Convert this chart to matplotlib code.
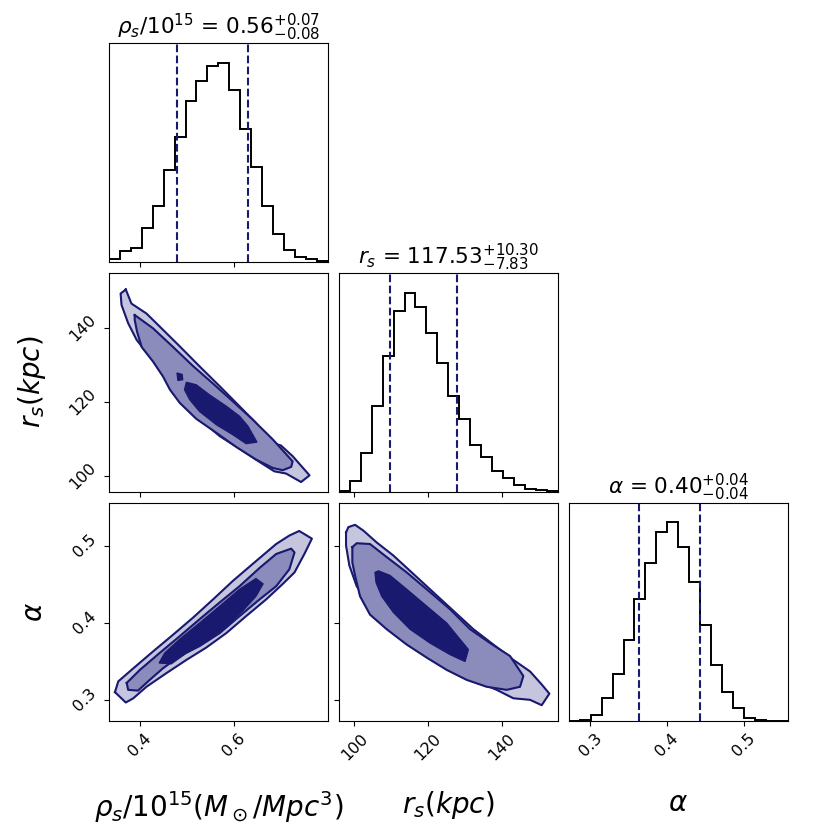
import numpy as np
import matplotlib.pyplot as plt

# colours
navy = "#191970"
c_light = "#c5c6de"
c_mid = "#8b8cbb"

# parameter ranges (axis limits = histogram range)
rho_range = [0.334, 0.800]
rs_range = [95.8, 155.0]
alpha_range = [0.272, 0.557]

# 1D histogram counts (20 bins)
rho_counts = [9, 30, 39, 96, 159, 263, 356, 459, 517, 560, 567, 489, 379, 270, 159, 81, 35, 15, 7, 4]
rs_counts = [3, 32, 115, 254, 401, 535, 590, 549, 470, 381, 285, 215, 139, 103, 60, 40, 21, 8, 5, 1]
alpha_counts = [1, 3, 20, 69, 141, 240, 364, 470, 563, 590, 518, 413, 285, 168, 88, 40, 10, 4, 1, 0]

# 16% / 84% quantiles
rho_q = [0.479, 0.631]
rs_q = [109.70, 127.83]
alpha_q = [0.364, 0.443]

# titles: median, +err, -err
rho_med, rho_up, rho_lo = "0.56", "0.07", "0.08"
rs_med, rs_up, rs_lo = "117.53", "10.30", "7.83"
alpha_med, alpha_up, alpha_lo = "0.40", "0.04", "0.04"

# 2D contours: rho vs r_s
rho_rs_outer_x = [0.370, 0.382, 0.414, 0.442, 0.485, 0.527, 0.570, 0.612, 0.647, 0.676, 0.700, 0.725, 0.761,
                  0.743, 0.711, 0.686, 0.655, 0.612, 0.570, 0.527, 0.492, 0.464, 0.435, 0.407, 0.393, 0.375, 0.361, 0.359]
rho_rs_outer_y = [150.5, 146.7, 144.0, 140.5, 135.1, 129.7, 124.3, 118.9, 114.4, 109.2, 108.3, 105.4, 100.2,
                  98.4, 100.7, 101.3, 103.8, 107.4, 110.8, 115.5, 119.8, 124.3, 130.6, 134.6, 136.9, 141.4, 146.3, 149.4]
rho_rs_mid_x = [0.389, 0.428, 0.471, 0.513, 0.556, 0.598, 0.640, 0.683, 0.725, 0.722, 0.704, 0.683,
                0.647, 0.605, 0.563, 0.520, 0.485, 0.464, 0.449, 0.428, 0.404, 0.394, 0.389]
rho_rs_mid_y = [143.6, 140.0, 134.9, 129.8, 125.0, 120.2, 115.3, 109.9, 104.0, 102.5, 101.6, 102.2,
                104.5, 107.9, 111.7, 115.5, 119.8, 123.4, 127.0, 131.0, 134.9, 139.1, 142.3]
rho_rs_in_x = [0.499, 0.520, 0.548, 0.584, 0.612, 0.630, 0.649, 0.626, 0.598, 0.563, 0.527, 0.506, 0.495]
rho_rs_in_y = [125.4, 124.7, 122.0, 118.9, 116.2, 113.5, 109.2, 108.8, 111.2, 113.9, 117.5, 120.7, 123.4]
rho_rs_blob_x = [0.479, 0.490, 0.491, 0.481]
rho_rs_blob_y = [127.9, 127.5, 126.1, 125.9]

# 2D contours: rho vs alpha
rho_al_outer_x = [0.347, 0.354, 0.386, 0.428, 0.471, 0.513, 0.556, 0.598, 0.640, 0.690, 0.718, 0.739, 0.766,
                  0.750, 0.729, 0.704, 0.669, 0.626, 0.584, 0.541, 0.499, 0.457, 0.414, 0.386, 0.370]
rho_al_outer_y = [0.310, 0.324, 0.341, 0.363, 0.385, 0.407, 0.431, 0.455, 0.477, 0.503, 0.514, 0.520, 0.510,
                  0.490, 0.466, 0.451, 0.431, 0.409, 0.387, 0.368, 0.352, 0.335, 0.317, 0.302, 0.2965]
rho_al_mid_x = [0.372, 0.400, 0.442, 0.485, 0.527, 0.570, 0.612, 0.655, 0.690, 0.722, 0.729, 0.718,
                0.690, 0.655, 0.612, 0.570, 0.527, 0.485, 0.449, 0.421, 0.396, 0.375]
rho_al_mid_y = [0.322, 0.339, 0.361, 0.383, 0.405, 0.427, 0.448, 0.472, 0.490, 0.497, 0.492, 0.470,
                0.448, 0.431, 0.409, 0.387, 0.370, 0.357, 0.341, 0.326, 0.312, 0.313]
rho_al_in_x = [0.441, 0.453, 0.485, 0.527, 0.570, 0.612, 0.647, 0.662, 0.647, 0.619, 0.584, 0.541, 0.499, 0.467]
rho_al_in_y = [0.348, 0.361, 0.379, 0.400, 0.422, 0.444, 0.458, 0.451, 0.435, 0.416, 0.396, 0.376, 0.361, 0.347]

# 2D contours: r_s vs alpha
rs_al_outer_x = [97.75, 98.38, 100.18, 102.43, 106.04, 110.54, 115.05, 120.45, 126.76, 132.17, 137.57, 142.98,
                 147.48, 150.64, 152.71, 150.64, 147.48, 142.98, 138.47, 133.07, 127.66, 122.25, 116.85,
                 111.44, 106.94, 103.33, 100.63, 98.65, 97.75]
rs_al_outer_y = [0.518, 0.525, 0.528, 0.5205, 0.505, 0.488, 0.468, 0.444, 0.416, 0.392, 0.372, 0.352,
                 0.337, 0.320, 0.308, 0.293, 0.300, 0.302, 0.313, 0.324, 0.344, 0.357, 0.374,
                 0.392, 0.409, 0.431, 0.448, 0.475, 0.501]
rs_al_mid_x = [99.46, 100.63, 104.23, 108.74, 114.15, 119.55, 125.86, 131.27, 136.67, 142.08, 145.68, 144.78,
               141.18, 135.77, 130.36, 124.96, 119.55, 114.15, 108.74, 104.23, 101.53, 100.18, 99.46]
rs_al_mid_y = [0.499, 0.504, 0.503, 0.486, 0.466, 0.444, 0.418, 0.392, 0.374, 0.357, 0.331, 0.317,
               0.313, 0.317, 0.326, 0.339, 0.355, 0.372, 0.392, 0.411, 0.435, 0.462, 0.479]
rs_al_in_x = [105.59, 106.49, 109.64, 114.15, 119.55, 124.96, 130.81, 129.91, 125.86, 120.45, 115.05, 110.54, 107.39, 105.86]
rs_al_in_y = [0.466, 0.468, 0.462, 0.444, 0.422, 0.400, 0.3655, 0.350, 0.359, 0.374, 0.392, 0.414, 0.435, 0.453]

labels = [r"$\rho_s/10^{15}(M_\odot/Mpc^3)$", r"$r_s(kpc)$", r"$\alpha$"]
ranges = [rho_range, rs_range, alpha_range]
ticks = [[0.4, 0.6], [100, 120, 140], [0.3, 0.4, 0.5]]
counts = [rho_counts, rs_counts, alpha_counts]
quants = [rho_q, rs_q, alpha_q]
titles = [r"$\rho_s/10^{15}$ = $%s^{+%s}_{-%s}$" % (rho_med, rho_up, rho_lo),
          r"$r_s$ = $%s^{+%s}_{-%s}$" % (rs_med, rs_up, rs_lo),
          r"$\alpha$ = $%s^{+%s}_{-%s}$" % (alpha_med, alpha_up, alpha_lo)]

contours = {
    (1, 0): [(rho_rs_outer_x, rho_rs_outer_y), (rho_rs_mid_x, rho_rs_mid_y), (rho_rs_in_x, rho_rs_in_y),
             (rho_rs_blob_x, rho_rs_blob_y)],
    (2, 0): [(rho_al_outer_x, rho_al_outer_y), (rho_al_mid_x, rho_al_mid_y), (rho_al_in_x, rho_al_in_y)],
    (2, 1): [(rs_al_outer_x, rs_al_outer_y), (rs_al_mid_x, rs_al_mid_y), (rs_al_in_x, rs_al_in_y)],
}
fills = [c_light, c_mid, navy, navy]

fig, axes = plt.subplots(3, 3, figsize=(8.31, 8.31), dpi=100)
fig.subplots_adjust(left=0.131, right=0.948, bottom=0.132, top=0.948, wspace=0.05, hspace=0.05)

for i in range(3):
    for j in range(3):
        ax = axes[i, j]
        if j > i:
            ax.set_axis_off()
            continue
        if i == j:
            edges = np.linspace(ranges[i][0], ranges[i][1], len(counts[i]) + 1)
            ax.stairs(counts[i], edges, color="black", linewidth=1.4)
            for q in quants[i]:
                ax.axvline(q, color=navy, linestyle="--", linewidth=1.5)
            ax.set_xlim(ranges[i])
            ax.set_ylim(0, 1.1 * max(counts[i]))
            ax.set_yticks([])
            ax.set_title(titles[i], fontsize=15.5)
        else:
            for k, (px, py) in enumerate(contours[(i, j)]):
                ax.fill(px, py, color=fills[k], zorder=2 + k)
                if k < 2:
                    ax.plot(px + px[:1], py + py[:1], color=navy, linewidth=1.5, zorder=2 + k)
            ax.set_xlim(ranges[j])
            ax.set_ylim(ranges[i])
            ax.set_yticks(ticks[i])
            if j == 0:
                ax.set_yticklabels([str(t) for t in ticks[i]], rotation=45, fontsize=11.5, va="center")
                ax.set_ylabel(labels[i], fontsize=20)
                ax.yaxis.set_label_coords(-0.28, 0.5)
            else:
                ax.set_yticklabels([])
        ax.set_xticks(ticks[j])
        if i == 2:
            ax.set_xticklabels([str(t) for t in ticks[j]], rotation=45, fontsize=11.5)
            ax.set_xlabel(labels[j], fontsize=20)
            ax.xaxis.set_label_coords(0.5, -0.31)
        else:
            ax.set_xticklabels([])

fig.savefig("out.png", dpi=100)
